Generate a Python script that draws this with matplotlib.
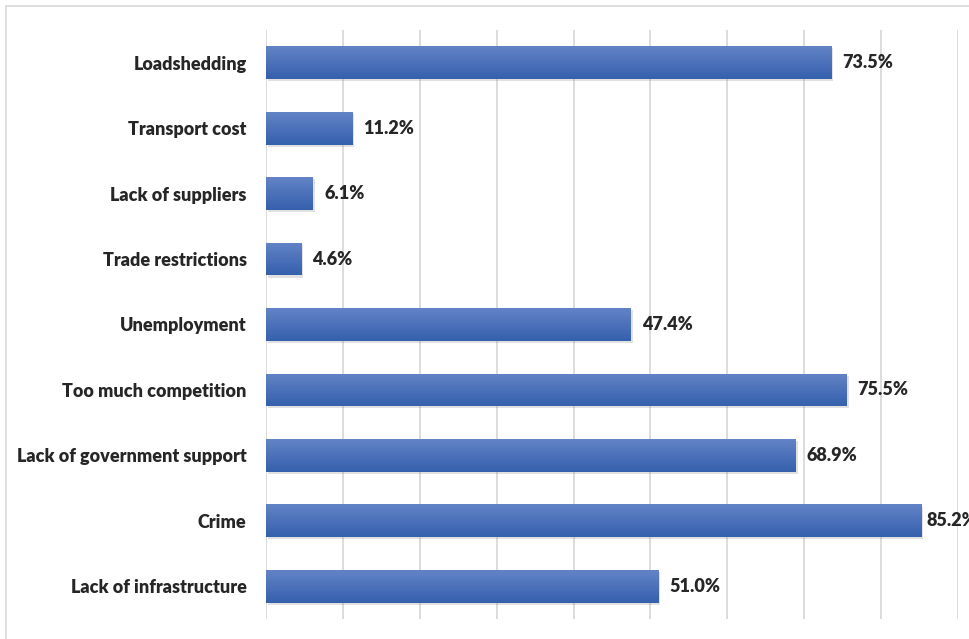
import matplotlib.pyplot as plt
import matplotlib.patheffects as pe
import numpy as np
from matplotlib.colors import LinearSegmentedColormap
from matplotlib.patches import Rectangle

# survey responses, drawn bottom-up
categories = [
    "Lack of infrastructure",
    "Crime",
    "Lack of government support",
    "Too much competition",
    "Unemployment",
    "Trade restrictions",
    "Lack of suppliers",
    "Transport cost",
    "Loadshedding",
]
percentages = [51.0, 85.2, 68.9, 75.5, 47.4, 4.6, 6.1, 11.2, 73.5]

plt.rcParams["font.family"] = ["Lato", "DejaVu Sans"]

fig = plt.figure(figsize=(9.69, 6.39), dpi=100)
ax = fig.add_axes([266 / 969, 1 - 619 / 639, (958 - 266) / 969, 589 / 639])

# light frame around the chart area
fig.patches.append(Rectangle((6 / 969, -0.1), 1.2, 1 - 6 / 639 + 0.1,
                             transform=fig.transFigure, fill=False,
                             edgecolor="#d9d9d9", linewidth=1.2))

y = np.arange(len(categories))
bars = ax.barh(y, percentages, height=0.5, color="#4a70bb", zorder=2)

# vertical gradient fill, lighter on top
grad = LinearSegmentedColormap.from_list("bar", ["#3560ad", "#6383c7"])
for bar in bars:
    bar.set_path_effects([pe.SimplePatchShadow(offset=(1.5, -1.5), shadow_rgbFace="#888888", alpha=0.25),
                          pe.Normal()])
    x0, y0 = bar.get_x(), bar.get_y()
    w, h = bar.get_width(), bar.get_height()
    img = ax.imshow(np.linspace(0, 1, 64).reshape(-1, 1), cmap=grad, aspect="auto",
                    extent=(x0, x0 + w, y0, y0 + h), origin="lower", zorder=3)
    img.set_clip_path(bar)

for yi, val in zip(y, percentages):
    # labels near the right edge sit closer to their bar
    offset = 4 if val > 80 else 8
    ax.annotate(f"{val:.1f}%", (val, yi), xytext=(offset, 0), textcoords="offset points",
                ha="left", va="center", fontsize=13, fontweight="heavy", color="#262626",
                annotation_clip=False, clip_on=False)

ax.set_xlim(0, 90)
ax.set_ylim(-0.5, len(categories) - 0.5)
ax.set_xticks(np.arange(0, 91, 10))
ax.set_xticklabels([])
ax.tick_params(axis="x", length=0)
ax.tick_params(axis="y", length=0, pad=14)
ax.set_yticks(y)
ax.set_yticklabels(categories, fontsize=13, fontweight="heavy", color="#262626")
ax.grid(axis="x", color="#d9d9d9", linewidth=1.3, zorder=0)
ax.set_axisbelow(True)
for side in ax.spines.values():
    side.set_visible(False)

fig.savefig("out.png", dpi=100)
